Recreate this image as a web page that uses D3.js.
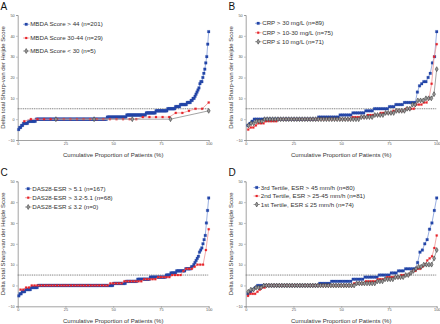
<!DOCTYPE html>
<html>
<head>
<meta charset="utf-8">
<script src="https://cdn.jsdelivr.net/npm/d3@7/dist/d3.min.js"></script>
<style>
  html, body { margin: 0; padding: 0; background: #fff; }
  svg { display: block; font-family: "Liberation Sans", Arial, sans-serif; }
</style>
</head>
<body>
<svg id="chart" width="440" height="324"></svg>
<script>
// Change in total Sharp-van der Heijde score, as frequency tables
// (score value -> number of patients), one table per subgroup.

// Panel A: MBDA score
const mbdaHighValues  = [-5,-4,-3,-2,-1, 0, 1, 2, 3, 4, 5, 6, 7, 8, 9,10,11,12,13,14,15,17,18,20,22,24,27,30,36,42];
const mbdaHighCounts  = [ 1, 2, 2, 5, 8,73,20,20,10,12, 8, 5, 7, 4, 2, 2, 1, 1, 1, 1, 1, 1, 2, 1, 1, 1, 1, 1, 1, 1];
const mbdaMidValues   = [-1, 0, 1, 3, 4, 5, 8];
const mbdaMidCounts   = [ 1,17, 5, 2, 1, 2, 1];
const mbdaLowValues   = [ 0, 4];
const mbdaLowCounts   = [ 4, 1];

// Panel B: CRP
const crpHighValues   = [-3,-2,-1, 0, 1, 2, 3, 4, 5, 6, 7, 8,13,16,17,18,20,22,27,30,42];
const crpHighCounts   = [ 1, 1, 1,30,10, 6, 6, 4, 7, 3, 4, 6, 1, 1, 1, 2, 1, 1, 1, 1, 1];
const crpMidValues    = [-5,-4,-3,-2,-1, 0, 1, 2, 3, 4, 5, 7, 8,10,17,30,36];
const crpMidCounts    = [ 1, 2, 1, 3, 5,29, 6, 5, 5, 5, 4, 3, 2, 1, 1, 1, 1];
const crpLowValues    = [-3,-2,-1, 0, 1, 2, 3, 4, 5, 7, 9,10,12,24];
const crpLowCounts    = [ 1, 2, 3,36, 5, 4, 4, 4, 2, 2, 3, 3, 1, 1];

// Panel C: DAS28-ESR (no patient with DAS28-ESR <= 3.2)
const dasHighValues   = [-5,-4,-3,-2,-1, 0, 1, 2, 3, 4, 5, 6, 7, 8, 9,10,11,12,13,14,16,17,18,20,22,24,30,36,42];
const dasHighCounts   = [ 1, 2, 3, 5, 6,66,11,10,11,14, 4, 5, 8, 5, 2, 1, 1, 1, 1, 1, 1, 1, 1, 1, 1, 1, 1, 1, 1];
const dasMidValues    = [-2,-1, 0, 1, 2, 3, 4, 5, 7, 8, 9,10,17,27];
const dasMidCounts    = [ 2, 2,28, 5, 7, 5, 5, 4, 1, 3, 1, 3, 1, 1];
const dasLowValues    = [];
const dasLowCounts    = [];

// Panel D: ESR tertiles
const esrHighValues   = [-4,-3,-2,-1, 0, 1, 2, 3, 4, 5, 6, 7, 8,11,16,17,20,22,27,30,36,42];
const esrHighCounts   = [ 1, 1, 1, 1,26, 5, 9, 5, 6, 5, 3, 3, 5, 1, 1, 1, 1, 1, 1, 1, 1, 1];
const esrMidValues    = [-5,-4,-3,-2,-1, 0, 1, 2, 3, 4, 5, 6, 7, 8, 9,10,12,13,14,18,24];
const esrMidCounts    = [ 1, 3, 1, 1, 2,37, 5, 5, 4, 6, 4, 1, 2, 2, 1, 1, 1, 1, 1, 1, 1];
const esrLowValues    = [-3,-2,-1, 0, 1, 2, 3, 4, 5, 6, 7, 8, 9,10,13,17];
const esrLowCounts    = [ 1, 2, 3,36, 8, 3, 4, 4, 2, 1, 1, 1, 2, 4, 1, 1];

const legendA = ["MBDA Score > 44 (n=201)", "MBDA Score 30-44 (n=29)", "MBDA Score < 30 (n=5)"];
const legendB = ["CRP > 30 mg/L (n=89)", "CRP > 10-30 mg/L (n=75)", "CRP \u2264 10 mg/L (n=71)"];
const legendC = ["DAS28-ESR > 5.1 (n=167)", "DAS28-ESR > 3.2-5.1 (n=68)", "DAS28-ESR \u2264 3.2 (n=0)"];
const legendD = ["3rd Tertile, ESR > 45 mm/h (n=80)", "2nd Tertile, ESR > 25-45 mm/h (n=81)", "1st Tertile, ESR \u2264 25 mm/h (n=74)"];

const yTicks = [-10, 0, 10, 20, 30, 40, 50];
const xTicks = [0, 25, 50, 75, 100];
const threshold = 5;
const xTitle = "Cumulative Proportion of Patients (%)";
const yTitle = "Delta total Sharp-van der Heijde Score";

// Expand a frequency table into cumulative-proportion points
function cumulative(values, counts) {
  const sorted = [];
  values.forEach((v, i) => { for (let k = 0; k < counts[i]; k++) sorted.push(v); });
  const n = sorted.length;
  return sorted.map((v, i) => ({ p: (i + 1) / n * 100, v }));
}

const styles = [
  { line: "#8ea6dc", fill: "#2446a8", stroke: "#2446a8", shape: d3.symbolSquare, size: 7, sw: 0.2 },
  { line: "#f0a0a0", fill: "#e8242a", stroke: "#e8242a", shape: d3.symbolSquare, size: 4, sw: 0.2 },
  { line: "#9a9a9a", fill: "#9c9c9c", stroke: "#3c3c3c", shape: d3.symbolDiamond, size: 7, sw: 0.6 }
];

const panels = [
  { letter: "A", left: 17.7, right: 208.7, top: 15, bottom: 140,
    legend: legendA, legX: 23, legY: [24.3, 38, 51],
    series: [[mbdaHighValues, mbdaHighCounts], [mbdaMidValues, mbdaMidCounts], [mbdaLowValues, mbdaLowCounts]] },
  { letter: "B", left: 245.7, right: 436.7, top: 15, bottom: 140,
    legend: legendB, legX: 255, legY: [23.3, 32.7, 41.7],
    series: [[crpHighValues, crpHighCounts], [crpMidValues, crpMidCounts], [crpLowValues, crpLowCounts]] },
  { letter: "C", left: 17.7, right: 208.7, top: 181.3, bottom: 306.3,
    legend: legendC, legX: 25, legY: [188.7, 197.7, 207],
    series: [[dasHighValues, dasHighCounts], [dasMidValues, dasMidCounts], [dasLowValues, dasLowCounts]] },
  { letter: "D", left: 245.7, right: 436.7, top: 181.3, bottom: 306.3,
    legend: legendD, legX: 253.5, legY: [187.5, 196, 204.5],
    series: [[esrHighValues, esrHighCounts], [esrMidValues, esrMidCounts], [esrLowValues, esrLowCounts]] }
];

const svg = d3.select("#chart");
const axisColor = "#8a8a8a";

panels.forEach((pn) => {
  const x = d3.scaleLinear().domain([0, 100]).range([pn.left, pn.right]);
  const y = d3.scaleLinear().domain([-10, 50]).range([pn.bottom, pn.top]);
  const g = svg.append("g");

  // panel letter
  g.append("text")
    .attr("x", pn.left - 17.2)
    .attr("y", pn.top - 5.5)
    .attr("font-size", 10)
    .attr("fill", "#111")
    .text(pn.letter);

  // axes
  const ya = g.append("g").attr("transform", `translate(${pn.left},0)`)
    .call(d3.axisLeft(y).tickValues(yTicks).tickSize(1.5).tickPadding(1.5));
  const xa = g.append("g").attr("transform", `translate(0,${pn.bottom})`)
    .call(d3.axisBottom(x).tickValues(xTicks).tickSize(1.5).tickPadding(1));
  [ya, xa].forEach(a => {
    a.select(".domain").attr("stroke", axisColor).attr("stroke-width", 0.8);
    a.selectAll(".tick line").attr("stroke", axisColor).attr("stroke-width", 0.6);
    a.selectAll(".tick text").attr("font-size", 3.8).attr("fill", "#555").attr("font-family", "Liberation Sans, Arial, sans-serif");
  });

  // axis titles
  g.append("text")
    .attr("x", (pn.left + pn.right) / 2)
    .attr("y", pn.bottom + 16.5)
    .attr("text-anchor", "middle")
    .attr("font-size", 6)
    .attr("fill", "#333")
    .text(xTitle);
  g.append("text")
    .attr("transform", `translate(${pn.left - 12.8},${(pn.top + pn.bottom) / 2}) rotate(-90)`)
    .attr("text-anchor", "middle")
    .attr("font-size", 6)
    .attr("fill", "#333")
    .text(yTitle);

  // threshold line at 5 units
  g.append("line")
    .attr("x1", x(0)).attr("x2", x(100))
    .attr("y1", y(threshold)).attr("y2", y(threshold))
    .attr("stroke", "#555").attr("stroke-width", 0.8)
    .attr("stroke-dasharray", "1,0.8");

  // cumulative curves
  pn.series.forEach((s, si) => {
    const pts = cumulative(s[0], s[1]);
    const st = styles[si];
    if (!pts.length) return;
    g.append("path")
      .datum(pts)
      .attr("fill", "none")
      .attr("stroke", st.line)
      .attr("stroke-width", 0.9)
      .attr("d", d3.line().x(d => x(d.p)).y(d => y(d.v)));
    g.selectAll(null).data(pts).enter().append("path")
      .attr("transform", d => `translate(${x(d.p)},${y(d.v)})`)
      .attr("d", d3.symbol().type(st.shape).size(st.size))
      .attr("fill", st.fill)
      .attr("stroke", st.stroke)
      .attr("stroke-width", st.sw);
  });

  // legend
  pn.legend.forEach((label, li) => {
    const st = styles[li];
    const ly = pn.legY[li];
    g.append("line")
      .attr("x1", pn.legX).attr("x2", pn.legX + 6.5)
      .attr("y1", ly).attr("y2", ly)
      .attr("stroke", st.line).attr("stroke-width", 0.9);
    g.append("path")
      .attr("transform", `translate(${pn.legX + 3.2},${ly})`)
      .attr("d", d3.symbol().type(st.shape).size(st.size))
      .attr("fill", st.fill)
      .attr("stroke", st.stroke)
      .attr("stroke-width", st.sw);
    g.append("text")
      .attr("x", pn.legX + 7.2)
      .attr("y", ly + 2.1)
      .attr("font-size", 6.2)
      .attr("fill", "#333")
      .text(label);
  });
});
</script>
</body>
</html>
